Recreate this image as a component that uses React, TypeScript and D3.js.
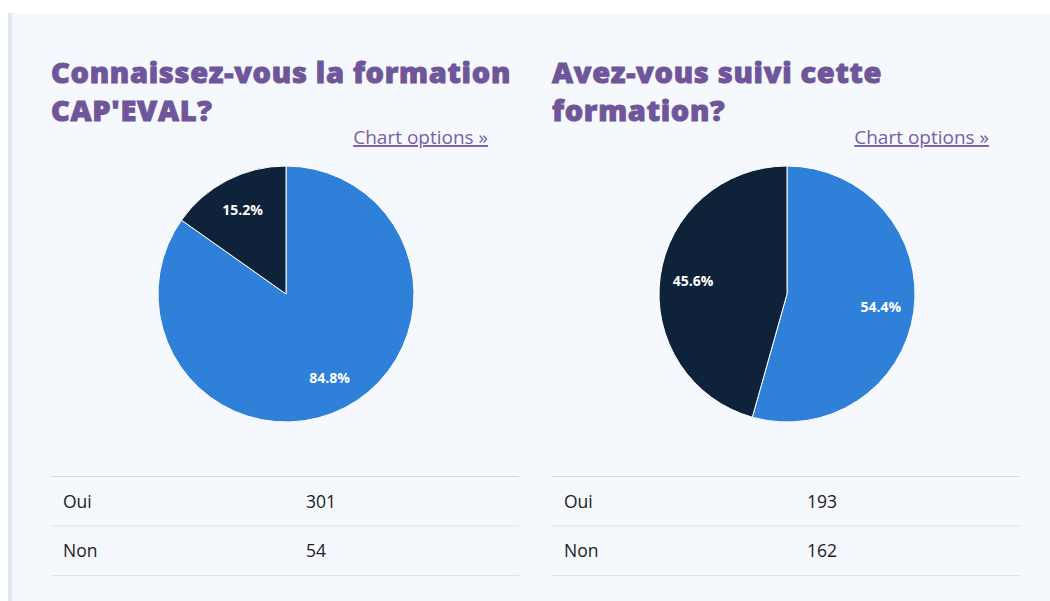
import React, { useEffect, useRef } from 'react';
import * as d3 from 'd3';

// answers for each question
const categories = ['Oui', 'Non'];
const connaissezValues = [301, 54];
const suiviValues = [193, 162];

const titles = [
  ['Connaissez-vous la formation', "CAP'EVAL?"],
  ['Avez-vous suivi cette', 'formation?'],
];
const seriesList = [connaissezValues, suiviValues];

const W = 1050;
const H = 601;
const colors = d3.scaleOrdinal<string, string>().domain(categories).range(['#2f80d9', '#0e2239']);
const FONT = "'Open Sans', 'Noto Sans', sans-serif";

export default function App() {
  const ref = useRef<SVGSVGElement>(null);

  useEffect(() => {
    const svg = d3.select(ref.current);
    svg.selectAll('*').remove();

    // panel
    svg.append('rect').attr('x', 8).attr('y', 13).attr('width', W - 8).attr('height', H - 13).attr('fill', '#f5f8fc');
    svg.append('rect').attr('x', 8).attr('y', 13).attr('width', 4).attr('height', H - 13).attr('fill', '#e1e8f1');

    const panelX = d3.scaleBand<number>().domain([0, 1]).range([51, 1020]).paddingInner(33 / 501);
    const radius = 128;
    const arc = d3.arc<d3.PieArcDatum<number>>().innerRadius(0).outerRadius(radius);
    const labelArc = d3.arc<d3.PieArcDatum<number>>().innerRadius(radius * 0.74).outerRadius(radius * 0.74);
    const pie = d3.pie<number>().sort(null);

    seriesList.forEach((values, i) => {
      const x0 = panelX(i)!;
      const bw = panelX.bandwidth();
      const g = svg.append('g').attr('transform', `translate(${x0},0)`);

      g.append('text')
        .attr('font-family', FONT)
        .attr('font-weight', 800)
        .attr('font-size', 29)
        .attr('letter-spacing', 0.7)
        .attr('fill', '#6f5599')
        .attr('stroke', '#6f5599')
        .attr('stroke-width', 0.9)
        .selectAll('tspan')
        .data(titles[i])
        .join('tspan')
        .attr('x', 0)
        .attr('y', (_, j) => 83 + j * 38)
        .text((d) => d);

      g.append('text')
        .attr('x', bw - 31)
        .attr('y', 144)
        .attr('text-anchor', 'end')
        .attr('font-family', FONT)
        .attr('font-size', 19)
        .attr('fill', '#7a5fa3')
        .attr('text-decoration', 'underline')
        .text('Chart options »');

      const total = d3.sum(values);
      const pg = g.append('g').attr('transform', `translate(${bw / 2 + 1},294)`);
      const arcs = pie(values);
      pg.selectAll('path')
        .data(arcs)
        .join('path')
        .attr('d', arc)
        .attr('fill', (_, j) => colors(categories[j]))
        .attr('stroke', '#ffffff')
        .attr('stroke-width', 1);
      pg.selectAll('text')
        .data(arcs)
        .join('text')
        .attr('transform', (d) => `translate(${labelArc.centroid(d)})`)
        .attr('text-anchor', 'middle')
        .attr('dy', '0.35em')
        .attr('font-family', FONT)
        .attr('font-weight', 700)
        .attr('font-size', 14)
        .attr('fill', '#ffffff')
        .text((d) => d3.format('.1%')(d.value / total));

      // table
      const rowY = d3.scaleBand<string>().domain(categories).range([476, 575]);
      g.append('line').attr('x1', 0).attr('x2', bw).attr('y1', 476.5).attr('y2', 476.5).attr('stroke', '#d4d8dc');
      categories.forEach((c, j) => {
        const y = rowY(c)!;
        g.append('line')
          .attr('x1', 0).attr('x2', bw)
          .attr('y1', y + rowY.bandwidth() + 0.5).attr('y2', y + rowY.bandwidth() + 0.5)
          .attr('stroke', '#e2e5e8');
        g.append('text').attr('x', 12).attr('y', y + 31.5)
          .attr('font-family', FONT).attr('font-size', 17.5).attr('fill', '#222')
          .text(c);
        g.append('text').attr('x', 255).attr('y', y + 31.5)
          .attr('font-family', FONT).attr('font-size', 17.5).attr('fill', '#222')
          .text(values[j]);
      });
    });
  }, []);

  return <svg ref={ref} width={W} height={H} style={{ position: 'absolute', left: 0, top: 0, background: '#fff' }} />;
}
